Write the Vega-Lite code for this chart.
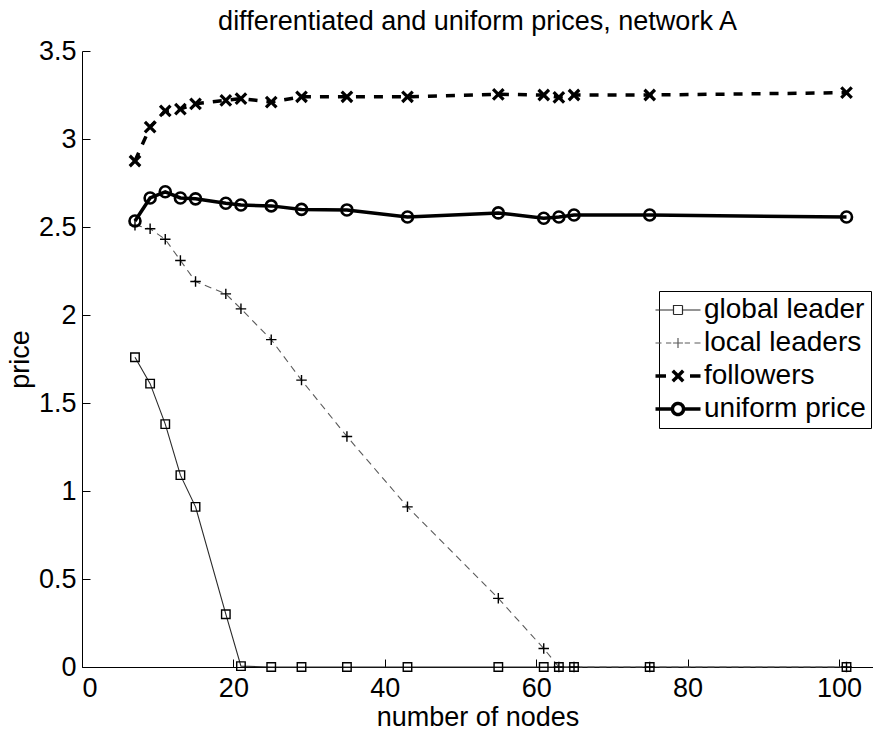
{
  "$schema": "https://vega.github.io/schema/vega-lite/v6.json",
  "autosize": {"type": "none"},
  "padding": {"left": 82, "top": 51, "right": 0, "bottom": 63},
  "width": 791,
  "height": 616,
  "background": "white",
  "title": {
    "text": "differentiated and uniform prices, network A",
    "font": "Liberation Sans",
    "fontSize": 27,
    "fontWeight": "normal",
    "color": "black",
    "anchor": "middle",
    "frame": "group",
    "offset": 18,
    "dy": 17
  },
  "config": {
    "view": {"stroke": null},
    "axis": {
      "domainColor": "black",
      "domainWidth": 1,
      "tickColor": "black",
      "tickWidth": 1,
      "tickSize": -8,
      "grid": false,
      "labelFont": "Liberation Sans",
      "labelFontSize": 27,
      "labelColor": "black",
      "titleFont": "Liberation Sans",
      "titleFontSize": 27,
      "titleFontWeight": "normal",
      "titleColor": "black"
    }
  },
  "data": {
    "values": [
      {"nodes": 7, "price": 1.76, "series": "global leader"},
      {"nodes": 9, "price": 1.61, "series": "global leader"},
      {"nodes": 11, "price": 1.38, "series": "global leader"},
      {"nodes": 13, "price": 1.09, "series": "global leader"},
      {"nodes": 15, "price": 0.91, "series": "global leader"},
      {"nodes": 19, "price": 0.30, "series": "global leader"},
      {"nodes": 21, "price": 0.005, "series": "global leader"},
      {"nodes": 25, "price": 0, "series": "global leader"},
      {"nodes": 29, "price": 0, "series": "global leader"},
      {"nodes": 35, "price": 0, "series": "global leader"},
      {"nodes": 43, "price": 0, "series": "global leader"},
      {"nodes": 55, "price": 0, "series": "global leader"},
      {"nodes": 61, "price": 0, "series": "global leader"},
      {"nodes": 63, "price": 0, "series": "global leader"},
      {"nodes": 65, "price": 0, "series": "global leader"},
      {"nodes": 75, "price": 0, "series": "global leader"},
      {"nodes": 101, "price": 0, "series": "global leader"},

      {"nodes": 7, "price": 2.51, "series": "local leaders"},
      {"nodes": 9, "price": 2.49, "series": "local leaders"},
      {"nodes": 11, "price": 2.43, "series": "local leaders"},
      {"nodes": 13, "price": 2.31, "series": "local leaders"},
      {"nodes": 15, "price": 2.19, "series": "local leaders"},
      {"nodes": 19, "price": 2.12, "series": "local leaders"},
      {"nodes": 21, "price": 2.035, "series": "local leaders"},
      {"nodes": 25, "price": 1.86, "series": "local leaders"},
      {"nodes": 29, "price": 1.63, "series": "local leaders"},
      {"nodes": 35, "price": 1.31, "series": "local leaders"},
      {"nodes": 43, "price": 0.91, "series": "local leaders"},
      {"nodes": 55, "price": 0.39, "series": "local leaders"},
      {"nodes": 61, "price": 0.105, "series": "local leaders"},
      {"nodes": 63, "price": 0, "series": "local leaders"},
      {"nodes": 65, "price": 0, "series": "local leaders"},
      {"nodes": 75, "price": 0, "series": "local leaders"},
      {"nodes": 101, "price": 0, "series": "local leaders"},

      {"nodes": 7, "price": 2.875, "series": "followers"},
      {"nodes": 9, "price": 3.068, "series": "followers"},
      {"nodes": 11, "price": 3.16, "series": "followers"},
      {"nodes": 13, "price": 3.17, "series": "followers"},
      {"nodes": 15, "price": 3.20, "series": "followers"},
      {"nodes": 19, "price": 3.22, "series": "followers"},
      {"nodes": 21, "price": 3.23, "series": "followers"},
      {"nodes": 25, "price": 3.21, "series": "followers"},
      {"nodes": 29, "price": 3.24, "series": "followers"},
      {"nodes": 35, "price": 3.24, "series": "followers"},
      {"nodes": 43, "price": 3.24, "series": "followers"},
      {"nodes": 55, "price": 3.254, "series": "followers"},
      {"nodes": 61, "price": 3.25, "series": "followers"},
      {"nodes": 63, "price": 3.237, "series": "followers"},
      {"nodes": 65, "price": 3.25, "series": "followers"},
      {"nodes": 75, "price": 3.25, "series": "followers"},
      {"nodes": 101, "price": 3.263, "series": "followers"},

      {"nodes": 7, "price": 2.534, "series": "uniform price"},
      {"nodes": 9, "price": 2.665, "series": "uniform price"},
      {"nodes": 11, "price": 2.70, "series": "uniform price"},
      {"nodes": 13, "price": 2.665, "series": "uniform price"},
      {"nodes": 15, "price": 2.66, "series": "uniform price"},
      {"nodes": 19, "price": 2.635, "series": "uniform price"},
      {"nodes": 21, "price": 2.625, "series": "uniform price"},
      {"nodes": 25, "price": 2.62, "series": "uniform price"},
      {"nodes": 29, "price": 2.60, "series": "uniform price"},
      {"nodes": 35, "price": 2.597, "series": "uniform price"},
      {"nodes": 43, "price": 2.557, "series": "uniform price"},
      {"nodes": 55, "price": 2.58, "series": "uniform price"},
      {"nodes": 61, "price": 2.55, "series": "uniform price"},
      {"nodes": 63, "price": 2.557, "series": "uniform price"},
      {"nodes": 65, "price": 2.568, "series": "uniform price"},
      {"nodes": 75, "price": 2.568, "series": "uniform price"},
      {"nodes": 101, "price": 2.557, "series": "uniform price"}
    ]
  },
  "encoding": {
    "x": {
      "field": "nodes",
      "type": "quantitative",
      "scale": {"domain": [0, 104.5], "nice": false, "zero": false},
      "axis": {
        "title": "number of nodes",
        "values": [0, 20, 40, 60, 80, 100],
        "labelPadding": 16,
        "titleBaseline": "alphabetic",
        "titleY": 58
      }
    },
    "y": {
      "field": "price",
      "type": "quantitative",
      "scale": {"domain": [0, 3.5], "nice": false},
      "axis": {
        "title": "price",
        "values": [0, 0.5, 1, 1.5, 2, 2.5, 3, 3.5],
        "labelExpr": "'' + datum.value",
        "labelPadding": 14,
        "titleBaseline": "alphabetic",
        "titleX": -54
      }
    }
  },
  "layer": [
    {
      "transform": [{"filter": "datum.series === 'global leader'"}],
      "mark": {"type": "line", "strokeWidth": 1.1, "clip": false},
      "encoding": {
        "color": {
          "field": "series",
          "type": "nominal",
          "scale": {
            "domain": ["global leader", "local leaders", "followers", "uniform price"],
            "range": ["#2a2a2a", "#5a5a5a", "black", "black"]
          },
          "legend": {
            "title": null,
            "orient": "none",
            "legendX": 577,
            "legendY": 240,
            "labelFont": "Liberation Sans",
            "labelFontSize": 28,
            "labelLimit": 0,
            "labelColor": "black",
            "symbolSize": 900,
            "labelOffset": 12,
            "padding": 5,
            "rowPadding": 5,
            "strokeColor": "black",
            "fillColor": "white",
            "cornerRadius": 0,
            "encode": {
              "symbols": {
                "update": {
                  "shape": {
                    "signal": "datum.value === 'global leader' ? 'M-1.5,0L-0.3,0M0.3,0L1.5,0M-0.3,-0.3L0.3,-0.3L0.3,0.3L-0.3,0.3Z' : datum.value === 'local leaders' ? 'M-1.5,0L-1.1,0M-0.8,0L-0.45,0M0.45,0L0.8,0M1.1,0L1.5,0M-0.33,0L0.33,0M0,-0.33L0,0.33' : datum.value === 'followers' ? 'M-1.5,0L-0.8,0M0.8,0L1.5,0M-0.35,-0.35L0.35,0.35M-0.35,0.35L0.35,-0.35' : 'M-1.5,0L-0.37,0M0.37,0L1.5,0M-0.37,0A0.37,0.37 0 1,1 0.37,0A0.37,0.37 0 1,1 -0.37,0'"
                  },
                  "strokeWidth": {
                    "signal": "datum.value === 'followers' || datum.value === 'uniform price' ? 3.5 : 1.2"
                  },
                  "stroke": {"value": "black"},
                  "fill": {"value": "transparent"},
                  "strokeDash": {"value": [1, 0]},
                  "opacity": {"value": 1}
                }
              }
            }
          }
        }
      }
    },
    {
      "transform": [{"filter": "datum.series === 'local leaders'"}],
      "mark": {"type": "line", "strokeWidth": 1.1, "strokeDash": [7, 5], "clip": false},
      "encoding": {"color": {"field": "series", "type": "nominal"}}
    },
    {
      "transform": [{"filter": "datum.series === 'followers'"}],
      "mark": {"type": "line", "strokeWidth": 3.5, "strokeDash": [9, 9], "clip": false},
      "encoding": {"color": {"field": "series", "type": "nominal"}}
    },
    {
      "transform": [{"filter": "datum.series === 'uniform price'"}],
      "mark": {"type": "line", "strokeWidth": 3.5, "clip": false},
      "encoding": {"color": {"field": "series", "type": "nominal"}}
    },
    {
      "transform": [{"filter": "datum.series === 'global leader'"}],
      "mark": {"type": "point", "shape": "square", "size": 72, "filled": false, "stroke": "black", "strokeWidth": 1.4, "opacity": 1, "clip": false}
    },
    {
      "transform": [{"filter": "datum.series === 'local leaders'"}],
      "mark": {"type": "point", "shape": "M-1,0L1,0M0,-1L0,1", "size": 110, "filled": false, "stroke": "black", "strokeWidth": 1.4, "opacity": 1, "clip": false}
    },
    {
      "transform": [{"filter": "datum.series === 'followers'"}],
      "mark": {"type": "point", "shape": "M-1,-1L1,1M-1,1L1,-1", "size": 110, "filled": false, "stroke": "black", "strokeWidth": 3.2, "opacity": 1, "clip": false}
    },
    {
      "transform": [{"filter": "datum.series === 'uniform price'"}],
      "mark": {"type": "point", "shape": "circle", "size": 121, "filled": false, "stroke": "black", "strokeWidth": 2.6, "opacity": 1, "clip": false}
    }
  ]
}
